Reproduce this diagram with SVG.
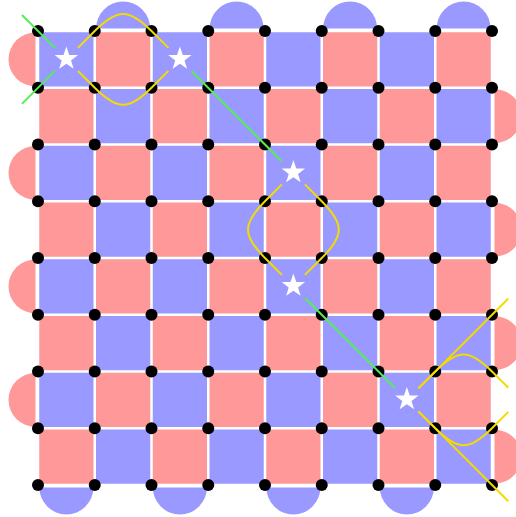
<svg xmlns="http://www.w3.org/2000/svg" width="516" height="517" viewBox="0 0 516 517">
<style>
.blue{fill:#9999ff}
.red{fill:#ff9999}
.grid{stroke:#ffffff;stroke-width:2.5;fill:none}
.dot{fill:#000000}
.star{fill:#ffffff}
.green{stroke:#55ee55;stroke-width:2;fill:none}
.yellow{stroke:#f5dc00;stroke-width:2;fill:none}
</style>
<defs>
<polygon id="starShape" points="0,-12.3 2.88,-3.96 11.7,-3.8 4.66,1.51 7.23,9.95 0,4.9 -7.23,9.95 -4.66,1.51 -11.7,-3.8 -2.88,-3.96"/>
</defs>
<rect width="516" height="517" fill="#ffffff"/>
<g id="halfdiscs">
<path class="blue" d="M96.125 28.5A27 27 0 0 1 150.125 28.5Z"/>
<path class="blue" d="M209.625 28.5A27 27 0 0 1 263.625 28.5Z"/>
<path class="blue" d="M323.125 28.5A27 27 0 0 1 377.125 28.5Z"/>
<path class="blue" d="M436.625 28.5A27 27 0 0 1 490.625 28.5Z"/>
<path class="blue" d="M39.375 487.5A27 27 0 0 0 93.375 487.5Z"/>
<path class="blue" d="M152.875 487.5A27 27 0 0 0 206.875 487.5Z"/>
<path class="blue" d="M266.375 487.5A27 27 0 0 0 320.375 487.5Z"/>
<path class="blue" d="M379.875 487.5A27 27 0 0 0 433.875 487.5Z"/>
<path class="red" d="M35.5 32.375A27 27 0 0 0 35.5 86.375Z"/>
<path class="red" d="M35.5 145.875A27 27 0 0 0 35.5 199.875Z"/>
<path class="red" d="M35.5 259.375A27 27 0 0 0 35.5 313.375Z"/>
<path class="red" d="M35.5 372.875A27 27 0 0 0 35.5 426.875Z"/>
<path class="red" d="M494.5 89.125A27 27 0 0 1 494.5 143.125Z"/>
<path class="red" d="M494.5 202.625A27 27 0 0 1 494.5 256.625Z"/>
<path class="red" d="M494.5 316.125A27 27 0 0 1 494.5 370.125Z"/>
<path class="red" d="M494.5 429.625A27 27 0 0 1 494.5 483.625Z"/>
</g>
<g id="board">
<rect class="blue" x="38" y="31" width="454" height="454"/>
<g class="red">
<rect x="94.75" y="31" width="56.75" height="56.75"/>
<rect x="208.25" y="31" width="56.75" height="56.75"/>
<rect x="321.75" y="31" width="56.75" height="56.75"/>
<rect x="435.25" y="31" width="56.75" height="56.75"/>
<rect x="38" y="87.75" width="56.75" height="56.75"/>
<rect x="151.5" y="87.75" width="56.75" height="56.75"/>
<rect x="265" y="87.75" width="56.75" height="56.75"/>
<rect x="378.5" y="87.75" width="56.75" height="56.75"/>
<rect x="94.75" y="144.5" width="56.75" height="56.75"/>
<rect x="208.25" y="144.5" width="56.75" height="56.75"/>
<rect x="321.75" y="144.5" width="56.75" height="56.75"/>
<rect x="435.25" y="144.5" width="56.75" height="56.75"/>
<rect x="38" y="201.25" width="56.75" height="56.75"/>
<rect x="151.5" y="201.25" width="56.75" height="56.75"/>
<rect x="265" y="201.25" width="56.75" height="56.75"/>
<rect x="378.5" y="201.25" width="56.75" height="56.75"/>
<rect x="94.75" y="258" width="56.75" height="56.75"/>
<rect x="208.25" y="258" width="56.75" height="56.75"/>
<rect x="321.75" y="258" width="56.75" height="56.75"/>
<rect x="435.25" y="258" width="56.75" height="56.75"/>
<rect x="38" y="314.75" width="56.75" height="56.75"/>
<rect x="151.5" y="314.75" width="56.75" height="56.75"/>
<rect x="265" y="314.75" width="56.75" height="56.75"/>
<rect x="378.5" y="314.75" width="56.75" height="56.75"/>
<rect x="94.75" y="371.5" width="56.75" height="56.75"/>
<rect x="208.25" y="371.5" width="56.75" height="56.75"/>
<rect x="321.75" y="371.5" width="56.75" height="56.75"/>
<rect x="435.25" y="371.5" width="56.75" height="56.75"/>
<rect x="38" y="428.25" width="56.75" height="56.75"/>
<rect x="151.5" y="428.25" width="56.75" height="56.75"/>
<rect x="265" y="428.25" width="56.75" height="56.75"/>
<rect x="378.5" y="428.25" width="56.75" height="56.75"/>
</g>
<path class="grid" d="M38 29.75V486.25M94.75 29.75V486.25M151.5 29.75V486.25M208.25 29.75V486.25M265 29.75V486.25M321.75 29.75V486.25M378.5 29.75V486.25M435.25 29.75V486.25M492 29.75V486.25M36.75 31H493.25M36.75 87.75H493.25M36.75 144.5H493.25M36.75 201.25H493.25M36.75 258H493.25M36.75 314.75H493.25M36.75 371.5H493.25M36.75 428.25H493.25M36.75 485H493.25"/>
</g>
<g id="dots" class="dot">
<circle cx="38" cy="31" r="6"/><circle cx="94.75" cy="31" r="6"/><circle cx="151.5" cy="31" r="6"/><circle cx="208.25" cy="31" r="6"/><circle cx="265" cy="31" r="6"/><circle cx="321.75" cy="31" r="6"/><circle cx="378.5" cy="31" r="6"/><circle cx="435.25" cy="31" r="6"/><circle cx="492" cy="31" r="6"/>
<circle cx="38" cy="87.75" r="6"/><circle cx="94.75" cy="87.75" r="6"/><circle cx="151.5" cy="87.75" r="6"/><circle cx="208.25" cy="87.75" r="6"/><circle cx="265" cy="87.75" r="6"/><circle cx="321.75" cy="87.75" r="6"/><circle cx="378.5" cy="87.75" r="6"/><circle cx="435.25" cy="87.75" r="6"/><circle cx="492" cy="87.75" r="6"/>
<circle cx="38" cy="144.5" r="6"/><circle cx="94.75" cy="144.5" r="6"/><circle cx="151.5" cy="144.5" r="6"/><circle cx="208.25" cy="144.5" r="6"/><circle cx="265" cy="144.5" r="6"/><circle cx="321.75" cy="144.5" r="6"/><circle cx="378.5" cy="144.5" r="6"/><circle cx="435.25" cy="144.5" r="6"/><circle cx="492" cy="144.5" r="6"/>
<circle cx="38" cy="201.25" r="6"/><circle cx="94.75" cy="201.25" r="6"/><circle cx="151.5" cy="201.25" r="6"/><circle cx="208.25" cy="201.25" r="6"/><circle cx="265" cy="201.25" r="6"/><circle cx="321.75" cy="201.25" r="6"/><circle cx="378.5" cy="201.25" r="6"/><circle cx="435.25" cy="201.25" r="6"/><circle cx="492" cy="201.25" r="6"/>
<circle cx="38" cy="258" r="6"/><circle cx="94.75" cy="258" r="6"/><circle cx="151.5" cy="258" r="6"/><circle cx="208.25" cy="258" r="6"/><circle cx="265" cy="258" r="6"/><circle cx="321.75" cy="258" r="6"/><circle cx="378.5" cy="258" r="6"/><circle cx="435.25" cy="258" r="6"/><circle cx="492" cy="258" r="6"/>
<circle cx="38" cy="314.75" r="6"/><circle cx="94.75" cy="314.75" r="6"/><circle cx="151.5" cy="314.75" r="6"/><circle cx="208.25" cy="314.75" r="6"/><circle cx="265" cy="314.75" r="6"/><circle cx="321.75" cy="314.75" r="6"/><circle cx="378.5" cy="314.75" r="6"/><circle cx="435.25" cy="314.75" r="6"/><circle cx="492" cy="314.75" r="6"/>
<circle cx="38" cy="371.5" r="6"/><circle cx="94.75" cy="371.5" r="6"/><circle cx="151.5" cy="371.5" r="6"/><circle cx="208.25" cy="371.5" r="6"/><circle cx="265" cy="371.5" r="6"/><circle cx="321.75" cy="371.5" r="6"/><circle cx="378.5" cy="371.5" r="6"/><circle cx="435.25" cy="371.5" r="6"/><circle cx="492" cy="371.5" r="6"/>
<circle cx="38" cy="428.25" r="6"/><circle cx="94.75" cy="428.25" r="6"/><circle cx="151.5" cy="428.25" r="6"/><circle cx="208.25" cy="428.25" r="6"/><circle cx="265" cy="428.25" r="6"/><circle cx="321.75" cy="428.25" r="6"/><circle cx="378.5" cy="428.25" r="6"/><circle cx="435.25" cy="428.25" r="6"/><circle cx="492" cy="428.25" r="6"/>
<circle cx="38" cy="485" r="6"/><circle cx="94.75" cy="485" r="6"/><circle cx="151.5" cy="485" r="6"/><circle cx="208.25" cy="485" r="6"/><circle cx="265" cy="485" r="6"/><circle cx="321.75" cy="485" r="6"/><circle cx="378.5" cy="485" r="6"/><circle cx="435.25" cy="485" r="6"/><circle cx="492" cy="485" r="6"/>
</g>
<g id="star-a"><use href="#starShape" class="star" transform="translate(66.375 58.9)"/></g>
<g id="star-b"><use href="#starShape" class="star" transform="translate(179.875 58.9)"/></g>
<g id="star-c"><use href="#starShape" class="star" transform="translate(293.375 172.4)"/></g>
<g id="star-d"><use href="#starShape" class="star" transform="translate(293.375 285.9)"/></g>
<g id="star-e"><use href="#starShape" class="star" transform="translate(406.875 399.4)"/></g>
<g id="connectors">
<path class="green" d="M22 15L54.9 47.9M21.9 103.9L54.9 70.9M191.7 71.2L281.7 161.2M305.2 298.2L395.1 388.1"/>
<path class="yellow" d="M77.9 47.9L94.75 31C117.45 8.3 128.8 8.3 151.5 31L168.4 47.9"/>
<path class="yellow" d="M77.9 70.9L94.75 87.75C117.45 110.45 128.8 110.45 151.5 87.75L168.4 70.9"/>
<path class="yellow" d="M281.9 184.4L265 201.25C242.3 223.95 242.3 235.3 265 258L281.9 274.9"/>
<path class="yellow" d="M304.9 184.4L321.75 201.25C344.45 223.95 344.45 235.3 321.75 258L304.9 274.9"/>
<path class="yellow" d="M418.4 388.4L508.3 298.5"/>
<path class="yellow" d="M418.4 388.4L435.25 371.5C457.95 348.8 469.3 348.8 492 371.5L508.3 387.8"/>
<path class="yellow" d="M418.4 411.4L508.3 501.3"/>
<path class="yellow" d="M418.4 411.4L435.25 428.25C457.95 450.95 469.3 450.95 492 428.25L508.3 411.9"/>
</g>
</svg>
